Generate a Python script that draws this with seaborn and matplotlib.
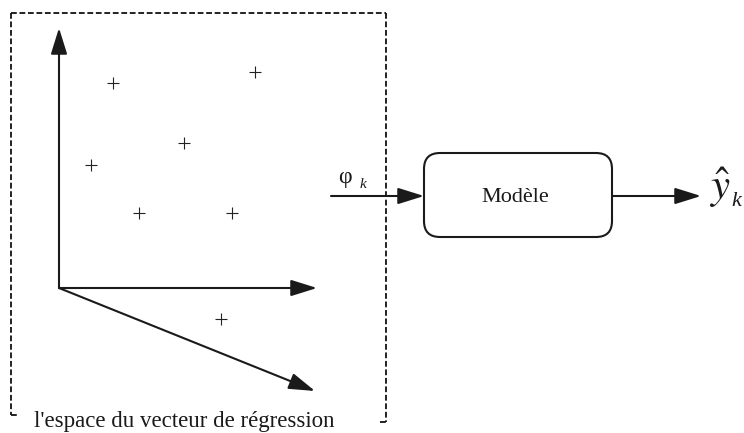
import matplotlib
matplotlib.use("Agg")
import matplotlib.pyplot as plt
from matplotlib.patches import FancyBboxPatch
import seaborn as sns
import pandas as pd

# --- data: regression-vector samples (image pixel coordinates) ---
point_x = [113, 255, 184, 91, 139, 232, 221]
point_y = [83, 72, 143, 165, 213, 213, 319]

box_label = "l'espace du vecteur de régression"
model_label = "Modèle"

sns.set_style("white")
plt.rcParams['font.family'] = ['Liberation Serif', 'DejaVu Serif']
plt.rcParams['mathtext.fontset'] = 'stix'

fig = plt.figure(figsize=(7.44, 4.33), dpi=100)
ax = fig.add_axes([0, 0, 1, 1])

df = pd.DataFrame({"x": point_x, "y": point_y})
sns.scatterplot(data=df, x="x", y="y", marker="+", s=75, color="#222222",
                linewidth=0.8, ax=ax, legend=False)
ax.set_xlim(0, 744)
ax.set_ylim(433, 0)
ax.axis('off')

def arrow(x0, y0, x1, y1, lw=1.5):
    ax.annotate("", xy=(x1, y1), xytext=(x0, y0),
                arrowprops=dict(arrowstyle="-|>,head_length=0.8,head_width=0.25",
                                mutation_scale=20, lw=lw, color="#1a1a1a",
                                shrinkA=0, shrinkB=0))

# axes of the regression space
ox, oy = 59, 288
arrow(ox, oy, ox, 28)
arrow(ox, oy, 317, oy)
arrow(ox, oy, 315, 391)

# dashed frame
dash = dict(color="#111111", lw=1.3, linestyle=(0, (3.2, 1.5)))
ax.plot([11, 386], [13, 13], **dash)
ax.plot([11, 11], [13, 415], **dash)
ax.plot([386, 386], [13, 422], **dash)
ax.plot([11, 17], [415, 415], **dash)
ax.plot([380, 386], [422, 422], **dash)
ax.text(184, 422, box_label, ha="center", va="center", fontsize=16.5, color="#1a1a1a")

# input arrow and phi_k
arrow(331, 196, 424, 196)
ax.text(338, 178, "φ", ha="left", va="center", fontsize=17, color="#1a1a1a")
ax.text(360, 184, "k", ha="left", va="center", fontsize=11, style="italic", color="#1a1a1a")

# model box
box = FancyBboxPatch((424, 153), 188, 84, boxstyle="round,pad=0,rounding_size=16",
                     fc="white", ec="#1a1a1a", lw=1.5)
ax.add_patch(box)
ax.text(515, 197, model_label, ha="center", va="center", fontsize=16, color="#1a1a1a")

# output arrow and y hat
arrow(612, 196, 701, 196)
ax.text(709, 188, r"$\hat{y}$", ha="left", va="center", fontsize=31, color="#1a1a1a")
ax.text(731, 201, "k", ha="left", va="center", fontsize=16, style="italic", color="#1a1a1a")

fig.savefig("out.png", dpi=100)
